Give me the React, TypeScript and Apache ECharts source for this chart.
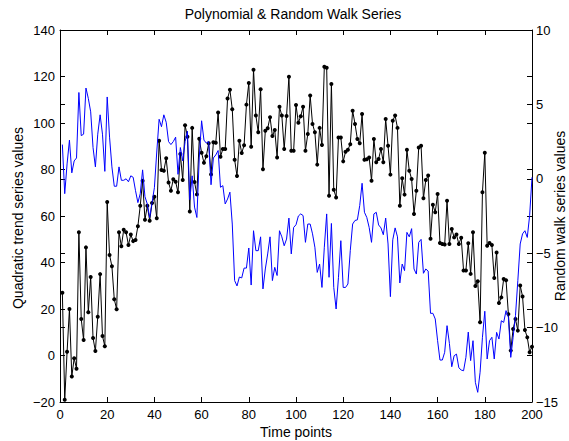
import React, { useEffect, useRef } from "react";
import * as echarts from "echarts";

// Time index 1..200 shared by both series
const timePoints: number[] = Array.from({ length: 200 }, (_, i) => i + 1);

// Quadratic trend series (left axis), noisy samples
const trendValues: number[] = [
  27, -19, 1.6, 20, -9, -1.2, -5.7, 53, 15.7, 6.7,
  46.5, 18.6, 33.8, 7.5, 1.9, 16.7, 35, 8.4, 4, 66,
  43.2, 38.4, 24.2, 19.9, 53, 47, 54.1, 53, 47.5, 52,
  49.2, 49.7, 55.6, 64.4, 75.2, 58.4, 64.4, 58.0, 65.6, 68.3,
  59.0, 92.4, 79.8, 79.5, 84.8, 74.4, 70.9, 75.8, 74.7, 70.2,
  86.7, 75.5, 99.0, 94.1, 61.9, 97.9, 74.6, 69.3, 93.2, 87.2,
  82.9, 85.7, 91.3, 77.9, 91.7, 91.5, 104.5, 85.5, 88.8, 88.8,
  110.5, 114.3, 105.9, 84.2, 77.2, 92.4, 87.1, 90.4, 107.9, 117.2,
  89.8, 122.9, 103.2, 96.0, 114.5, 80.1, 96.7, 97.7, 102.5, 94.4,
  97.0, 85.2, 107.0, 103.2, 88.8, 103.0, 119.9, 88.1, 88.1, 107.7,
  100.1, 102.9, 107.0, 88.1, 95.3, 111.8, 99.6, 96.0, 82.1, 97.9,
  90.5, 124.2, 123.8, 68.7, 116.8, 71.3, 68.0, 93.8, 93.8, 83.5,
  87.6, 88.5, 90.9, 105.3, 99.6, 93.1, 91.3, 103.9, 84.2, 84.4,
  85.2, 75.2, 93.1, 83.1, 84.5, 88.8, 83.1, 101.7, 90.2, 77.8,
  101.0, 103.2, 97.9, 64.4, 76.2, 69.2, 88.5, 79.5, 75.9, 60.9,
  70.9, 89.5, 90.2, 67.6, 75.5, 77.4, 50.2, 64.8, 61.6, 69.5,
  48.4, 48.0, 47.7, 66.6, 48.0, 54.4, 50.8, 52.0, 48.0, 50.6,
  36.6, 36.6, 48.3, 35.1, 53.0, 29.9, 31.9, 14.3, 70.2, 87.2,
  47.2, 48.4, 47.5, 33.3, 44.3, 22.6, 25.0, 32.9, 32.4, 17.8,
  2.1, 11.4, 15.7, 10.7, 30.1, 25.4, 11.0, 7.8, 1.4, 3.8,
];

// Random walk series (right axis)
const walkValues: number[] = [
  2.3, -1.0, 1.0, 2.6, 0.4, 1.2, 1.4, 5.8, 2.9, 3.0,
  6.1, 5.4, 4.5, 2.1, 0.8, 3.0, 4.3, 3.0, 0.5, 5.5,
  2.8, 0.8, -0.5, -0.5, 0.8, -0.1, -0.1, 0.0, -0.2, 0.2,
  0.1, -0.8, -1.6, -1.0, 0.6, -1.2, -1.7, -2.6, -1.6, -0.6,
  1.8, 4.0, 3.5, 4.3, 3.8, 2.5, 2.3, 2.5, 2.8, 0.3,
  2.1, 1.2, 2.5, 3.2, -1.4, 0.2, -1.9, -2.6, 1.4, 3.9,
  2.6, 2.4, 2.5, -0.4, 1.4, 1.6, 1.9, -0.57, -0.46, -1.69,
  -1.36, -0.9, -3.04, -6.84, -7.2, -6.6, -6.66, -6.0, -6.0, -4.65,
  -7.14, -3.49, -4.83, -4.83, -3.9, -7.4, -6.06, -5.05, -3.9, -6.84,
  -5.95, -6.5, -3.49, -3.9, -4.5, -4.05, -2.64, -5.05, -3.27, -3.09,
  -2.5, -2.36, -2.47, -4.27, -3.04, -3.04, -3.7, -4.6, -6.29, -5.73,
  -7.3, -4.6, -2.36, -6.62, -3.0, -7.3, -8.75, -6.62, -4.16, -7.3,
  -7.3, -7.07, -4.83, -3.04, -2.8, -2.76, -1.8, -0.3, -2.25, -2.6,
  -3.27, -4.27, -2.36, -2.25, -3.1, -3.3, -3.76, -2.64, -4.38, -7.92,
  -4.1, -3.3, -3.9, -7.0, -5.73, -6.17, -3.6, -3.9, -3.35, -6.06,
  -6.4, -4.27, -4.07, -6.35, -6.06, -6.2, -9.04, -9.04, -9.42, -10.88,
  -12.18, -12.18, -11.66, -9.87, -11.06, -12.63, -11.89, -11.78, -12.7, -12.85,
  -12.9, -12.0, -10.3, -12.22, -10.88, -13.68, -14.35, -13.0, -10.65, -8.9,
  -12.11, -10.88, -10.65, -12.11, -10.32, -10.77, -9.54, -9.65, -8.86, -9.31,
  -12.0, -10.65, -9.2, -6.84, -4.38, -3.7, -3.49, -3.94, -2.47, 0.1,
];

const xTicks = { min: 0, max: 200, step: 20 };
const leftTicks = { min: -20, max: 140, step: 20 };
const rightTicks = { min: -15, max: 10, step: 5 };

const TITLE = "Polynomial & Random Walk Series";
const X_LABEL = "Time points";
const LEFT_LABEL = "Quadratic trend series values";
const RIGHT_LABEL = "Random walk series values";

const FONT = '"Liberation Sans", Arial, Helvetica, sans-serif';

const fmt = (v: number) => (v < 0 ? "\u2212" + Math.abs(v) : String(v));

export default function App() {
  const ref = useRef<HTMLDivElement>(null);

  useEffect(() => {
    if (!ref.current) return;
    const chart = echarts.init(ref.current, undefined, { renderer: "svg" });

    const gridLeft = 60;
    const gridTop = 30;
    const gridW = 472;
    const gridH = 372;

    const lineStyle = { color: "#000", width: 1 };
    const frameLine = { show: true, onZero: false, lineStyle };
    const noLine = { show: false, onZero: false };
    const tick = { show: true, inside: true, length: 5, lineStyle };
    const labelBase = { color: "#000", fontFamily: FONT, fontSize: 13 };

    const trendData = timePoints.map((t, i) => [t, trendValues[i]]);
    const walkData = timePoints.map((t, i) => [t, walkValues[i]]);

    chart.setOption({
      animation: false,
      backgroundColor: "#fff",
      grid: { left: gridLeft, top: gridTop, width: gridW, height: gridH, containLabel: false },
      xAxis: [
        {
          type: "value",
          position: "bottom",
          min: xTicks.min,
          max: xTicks.max,
          interval: xTicks.step,
          axisLine: frameLine,
          axisTick: tick,
          splitLine: { show: false },
          axisLabel: { ...labelBase, margin: 6, formatter: fmt },
        },
        {
          type: "value",
          position: "top",
          min: xTicks.min,
          max: xTicks.max,
          interval: xTicks.step,
          axisLine: frameLine,
          axisTick: tick,
          splitLine: { show: false },
          axisLabel: { show: false },
        },
      ],
      yAxis: [
        {
          type: "value",
          position: "left",
          min: leftTicks.min,
          max: leftTicks.max,
          interval: leftTicks.step,
          axisLine: frameLine,
          axisTick: tick,
          splitLine: { show: false },
          axisLabel: { ...labelBase, margin: 5, formatter: fmt },
        },
        {
          type: "value",
          position: "right",
          min: rightTicks.min,
          max: rightTicks.max,
          interval: rightTicks.step,
          axisLine: frameLine,
          axisTick: tick,
          splitLine: { show: false },
          axisLabel: { ...labelBase, margin: 4, formatter: fmt },
        },
        {
          // left-axis ticks repeated on the right edge
          type: "value",
          position: "right",
          min: leftTicks.min,
          max: leftTicks.max,
          interval: leftTicks.step,
          axisLine: noLine,
          axisTick: tick,
          splitLine: { show: false },
          axisLabel: { show: false },
        },
        {
          // right-axis ticks repeated on the left edge
          type: "value",
          position: "left",
          min: rightTicks.min,
          max: rightTicks.max,
          interval: rightTicks.step,
          axisLine: noLine,
          axisTick: tick,
          splitLine: { show: false },
          axisLabel: { show: false },
        },
      ],
      series: [
        {
          name: "Quadratic trend",
          type: "line",
          xAxisIndex: 0,
          yAxisIndex: 0,
          data: trendData,
          showSymbol: true,
          symbol: "circle",
          symbolSize: 4,
          itemStyle: { color: "#000" },
          lineStyle: { color: "#000", width: 1 },
          z: 2,
        },
        {
          name: "Random walk",
          type: "line",
          xAxisIndex: 0,
          yAxisIndex: 1,
          data: walkData,
          showSymbol: false,
          symbol: "none",
          lineStyle: { color: "#0000ff", width: 1 },
          z: 3,
        },
      ],
      graphic: [
        {
          type: "text",
          x: 293,
          y: 14,
          style: {
            text: TITLE,
            font: `14px ${FONT}`,
            fill: "#000",
            textAlign: "center",
            textVerticalAlign: "middle",
          },
        },
        {
          type: "text",
          x: 296,
          y: 432,
          style: {
            text: X_LABEL,
            font: `14px ${FONT}`,
            fill: "#000",
            textAlign: "center",
            textVerticalAlign: "middle",
          },
        },
        {
          type: "text",
          x: 18,
          y: 218,
          rotation: Math.PI / 2,
          style: {
            text: LEFT_LABEL,
            font: `14px ${FONT}`,
            fill: "#000",
            textAlign: "center",
            textVerticalAlign: "middle",
          },
        },
        {
          type: "text",
          x: 560,
          y: 216,
          rotation: Math.PI / 2,
          style: {
            text: RIGHT_LABEL,
            font: `14px ${FONT}`,
            fill: "#000",
            textAlign: "center",
            textVerticalAlign: "middle",
          },
        },
      ],
    });

    return () => chart.dispose();
  }, []);

  return (
    <div
      ref={ref}
      style={{ position: "fixed", left: 0, top: 0, width: 569, height: 441, background: "#fff" }}
    />
  );
}
